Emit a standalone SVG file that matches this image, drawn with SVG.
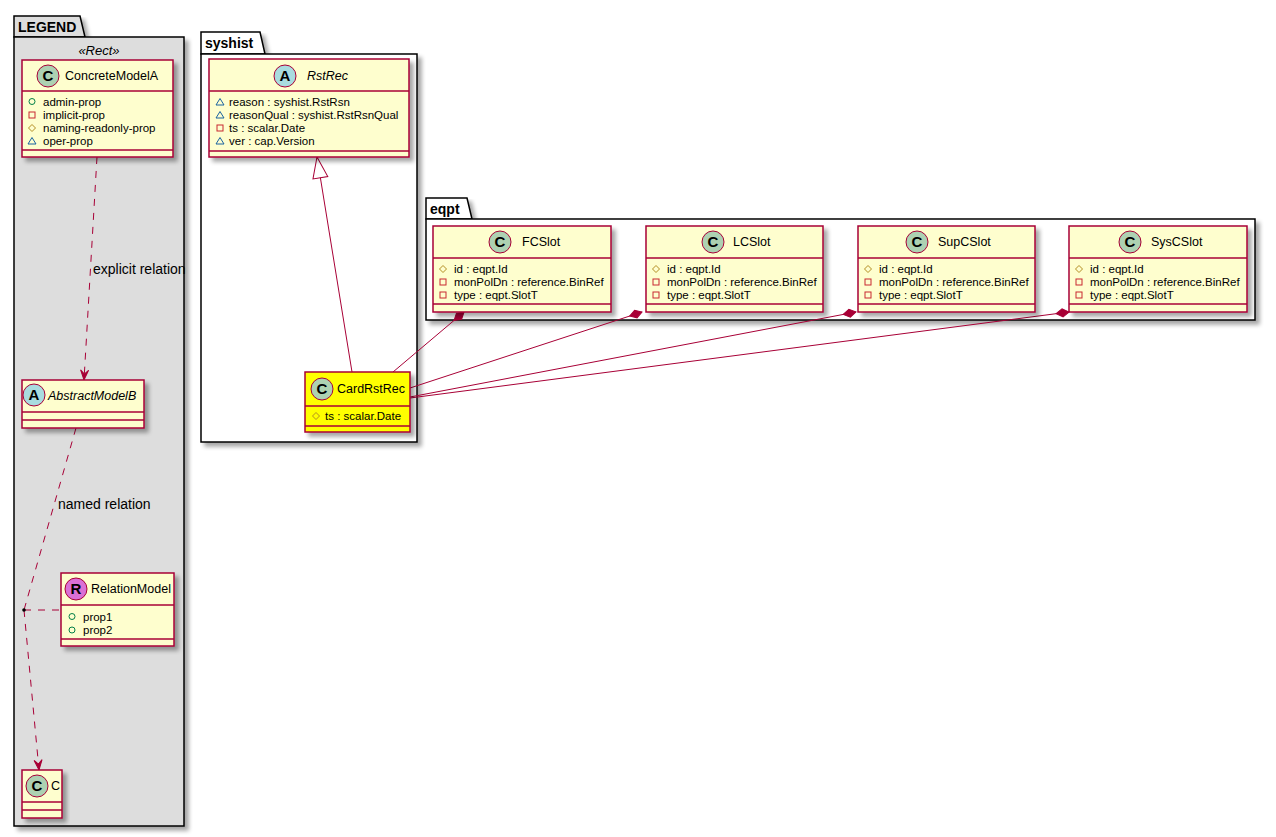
<svg xmlns="http://www.w3.org/2000/svg" width="1276" height="837" viewBox="0 0 1276 837">
<style>
text{font-family:"Liberation Sans",Arial,sans-serif;fill:#000}
.pkgname{font-size:14px;font-weight:bold}
.name{font-size:12.5px}
.it{font-style:italic}
.st{font-size:13px;font-style:italic}
.attr{font-size:11.5px}
.lbl{font-size:14px}
.spot{font-size:15px;font-weight:bold;text-anchor:middle}
.box{fill:#FEFECE;stroke:#A80036;stroke-width:1.5;filter:url(#sh)}
.card{fill:#FFFF00;stroke:#A80036;stroke-width:1.5;filter:url(#sh)}
.sep{stroke:#A80036;stroke-width:1.5}
.pkg{fill:#FFFFFF;stroke:#000;stroke-width:1.5}
.leg{fill:#DDDDDD;stroke:#000;stroke-width:1.5}
.link{fill:none;stroke:#A80036;stroke-width:1}
.dash{stroke-dasharray:7,7}
.circ{stroke:#A80036;stroke-width:1}
</style>
<defs>
<filter id="sh" x="-10%" y="-10%" width="130%" height="140%">
<feGaussianBlur in="SourceAlpha" stdDeviation="2"/>
<feOffset dx="4" dy="4" result="b"/>
<feComponentTransfer><feFuncA type="linear" slope="0.35"/></feComponentTransfer>
<feMerge><feMergeNode/><feMergeNode in="SourceGraphic"/></feMerge>
</filter>
<marker id="dep" markerUnits="userSpaceOnUse" markerWidth="12" markerHeight="10" refX="10" refY="4" orient="auto" overflow="visible">
<path d="M0,0 L10,4 L0,8 L4,4 Z" fill="#A80036" stroke="#A80036" stroke-width="1"/>
</marker>
<marker id="gen" markerUnits="userSpaceOnUse" markerWidth="22" markerHeight="16" refX="21" refY="7.5" orient="auto" overflow="visible">
<path d="M0,0 L21,7.5 L0,15 Z" fill="#FFFFFF" stroke="#A80036" stroke-width="1"/>
</marker>
<marker id="comp" markerUnits="userSpaceOnUse" markerWidth="14" markerHeight="10" refX="13" refY="4" orient="auto" overflow="visible">
<path d="M0,4 L6.5,0 L13,4 L6.5,8 Z" fill="#A80036" stroke="#A80036" stroke-width="1"/>
</marker>
<g id="pub"><circle cx="0" cy="0" r="3" fill="none" stroke="#038048" stroke-width="1"/></g>
<g id="priv"><rect x="-3" y="-3" width="6" height="6" fill="none" stroke="#C82930" stroke-width="1"/></g>
<g id="prot"><path d="M0,-3.5 L3.5,0 L0,3.5 L-3.5,0 Z" fill="none" stroke="#B38D22" stroke-width="1"/></g>
<g id="pkgv"><path d="M0,-3.5 L4,3 L-4,3 Z" fill="none" stroke="#1963A0" stroke-width="1"/></g>
</defs>
<rect width="1276" height="837" fill="#FFFFFF"/>

<g id="pkg-legend">
<path class="leg" d="M14,37 L14,16 L80,16 L85,37 Z" filter="url(#sh)"/>
<rect class="leg" x="14" y="37" width="170" height="789" filter="url(#sh)"/>
<text class="pkgname" x="18" y="32">LEGEND</text>
<text class="st" x="99" y="55" text-anchor="middle">«Rect»</text>
</g>
<g id="pkg-syshist">
<path class="pkg" d="M201,54 L201,32 L260,32 L265,54 Z" filter="url(#sh)"/>
<rect class="pkg" x="201" y="54" width="216" height="388" filter="url(#sh)"/>
<text class="pkgname" x="205" y="48">syshist</text>
</g>
<g id="pkg-eqpt">
<path class="pkg" d="M426,219 L426,198 L467,198 L472,219 Z" filter="url(#sh)"/>
<rect class="pkg" x="426" y="219" width="829" height="101" filter="url(#sh)"/>
<text class="pkgname" x="430" y="214">eqpt</text>
</g>

<g id="connectors">
<path class="link dash" d="M97,157 L84,380" marker-end="url(#dep)"/>
<text class="lbl" x="93" y="274">explicit relation</text>
<path class="link dash" d="M76,428 L24,610"/>
<path class="link dash" d="M24,610 L39,770" marker-end="url(#dep)"/>
<path class="link dash" d="M24,610 L61,610"/>
<circle cx="24" cy="610" r="1.8" fill="#000"/>
<text class="lbl" x="58" y="509">named relation</text>
<path class="link" d="M352,372 L317,157" marker-end="url(#gen)"/>
<path class="link" d="M393,372 L464,312" marker-end="url(#comp)"/>
<path class="link" d="M410,388 L642,312" marker-end="url(#comp)"/>
<path class="link" d="M410,397 L856,312" marker-end="url(#comp)"/>
<path class="link" d="M410,398 L1069,312" marker-end="url(#comp)"/>
</g>

<g id="ConcreteModelA">
<rect class="box" x="22" y="60" width="151" height="97"/>
<line class="sep" x1="22" y1="91" x2="173" y2="91"/>
<line class="sep" x1="22" y1="150" x2="173" y2="150"/>
<circle class="circ" cx="48" cy="76" r="11" fill="#ADD1B2"/>
<text class="spot" x="48" y="81">C</text>
<text class="name" x="65" y="80">ConcreteModelA</text>
<use href="#pub" x="32" y="101.5"/><text class="attr" x="43" y="105.5">admin-prop</text>
<use href="#priv" x="32" y="115"/><text class="attr" x="43" y="119">implicit-prop</text>
<use href="#prot" x="32" y="128"/><text class="attr" x="43" y="132">naming-readonly-prop</text>
<use href="#pkgv" x="32" y="141"/><text class="attr" x="43" y="145">oper-prop</text>
</g>

<g id="AbstractModelB">
<rect class="box" x="22" y="380" width="122" height="48"/>
<line class="sep" x1="22" y1="412" x2="144" y2="412"/>
<line class="sep" x1="22" y1="420" x2="144" y2="420"/>
<circle class="circ" cx="34" cy="395" r="11" fill="#A9DCDF"/>
<text class="spot" x="34" y="400">A</text>
<text class="name it" x="48" y="400">AbstractModelB</text>
</g>

<g id="RelationModel">
<rect class="box" x="61" y="573" width="113" height="73"/>
<line class="sep" x1="61" y1="605" x2="174" y2="605"/>
<line class="sep" x1="61" y1="639" x2="174" y2="639"/>
<circle class="circ" cx="76" cy="589" r="11" fill="#DA70D6"/>
<text class="spot" x="76" y="594">R</text>
<text class="name" x="91" y="593">RelationModel</text>
<use href="#pub" x="72" y="616.5"/><text class="attr" x="83" y="620.5">prop1</text>
<use href="#pub" x="72" y="630"/><text class="attr" x="83" y="634">prop2</text>
</g>

<g id="C">
<rect class="box" x="22" y="770" width="40" height="48"/>
<line class="sep" x1="22" y1="802" x2="62" y2="802"/>
<line class="sep" x1="22" y1="810" x2="62" y2="810"/>
<circle class="circ" cx="37" cy="786" r="11" fill="#ADD1B2"/>
<text class="spot" x="37" y="791">C</text>
<text class="name" x="51" y="790">C</text>
</g>

<g id="RstRec">
<rect class="box" x="209" y="59" width="200" height="98"/>
<line class="sep" x1="209" y1="91" x2="409" y2="91"/>
<line class="sep" x1="209" y1="151" x2="409" y2="151"/>
<circle class="circ" cx="285" cy="76" r="11" fill="#A9DCDF"/>
<text class="spot" x="285" y="81">A</text>
<text class="name it" x="307" y="80">RstRec</text>
<use href="#pkgv" x="220" y="102"/><text class="attr" x="229" y="106">reason : syshist.RstRsn</text>
<use href="#pkgv" x="220" y="115"/><text class="attr" x="229" y="119">reasonQual : syshist.RstRsnQual</text>
<use href="#priv" x="220" y="128"/><text class="attr" x="229" y="132">ts : scalar.Date</text>
<use href="#pkgv" x="220" y="141"/><text class="attr" x="229" y="145">ver : cap.Version</text>
</g>

<g id="CardRstRec">
<rect class="card" x="305" y="372" width="105" height="60"/>
<line class="sep" x1="305" y1="406" x2="410" y2="406"/>
<line class="sep" x1="305" y1="426" x2="410" y2="426"/>
<circle class="circ" cx="322" cy="389" r="11" fill="#ADD1B2"/>
<text class="spot" x="322" y="394">C</text>
<text class="name" x="337" y="393">CardRstRec</text>
<use href="#prot" x="316" y="416"/><text class="attr" x="325" y="420">ts : scalar.Date</text>
</g>

<g id="FCSlot">
<rect class="box" x="433" y="226" width="178" height="86"/>
<line class="sep" x1="433" y1="258" x2="611" y2="258"/>
<line class="sep" x1="433" y1="304" x2="611" y2="304"/>
<circle class="circ" cx="500" cy="242" r="11" fill="#ADD1B2"/>
<text class="spot" x="500" y="247">C</text>
<text class="name" x="522" y="246">FCSlot</text>
<use href="#prot" x="443" y="269"/><text class="attr" x="454" y="273">id : eqpt.Id</text>
<use href="#priv" x="443" y="282"/><text class="attr" x="454" y="286">monPolDn : reference.BinRef</text>
<use href="#priv" x="443" y="295"/><text class="attr" x="454" y="299">type : eqpt.SlotT</text>
</g>

<g id="LCSlot">
<rect class="box" x="646" y="226" width="177" height="86"/>
<line class="sep" x1="646" y1="258" x2="823" y2="258"/>
<line class="sep" x1="646" y1="304" x2="823" y2="304"/>
<circle class="circ" cx="713" cy="242" r="11" fill="#ADD1B2"/>
<text class="spot" x="713" y="247">C</text>
<text class="name" x="733" y="246">LCSlot</text>
<use href="#prot" x="656" y="269"/><text class="attr" x="667" y="273">id : eqpt.Id</text>
<use href="#priv" x="656" y="282"/><text class="attr" x="667" y="286">monPolDn : reference.BinRef</text>
<use href="#priv" x="656" y="295"/><text class="attr" x="667" y="299">type : eqpt.SlotT</text>
</g>

<g id="SupCSlot">
<rect class="box" x="858" y="226" width="177" height="86"/>
<line class="sep" x1="858" y1="258" x2="1035" y2="258"/>
<line class="sep" x1="858" y1="304" x2="1035" y2="304"/>
<circle class="circ" cx="917" cy="242" r="11" fill="#ADD1B2"/>
<text class="spot" x="917" y="247">C</text>
<text class="name" x="938" y="246">SupCSlot</text>
<use href="#prot" x="868" y="269"/><text class="attr" x="879" y="273">id : eqpt.Id</text>
<use href="#priv" x="868" y="282"/><text class="attr" x="879" y="286">monPolDn : reference.BinRef</text>
<use href="#priv" x="868" y="295"/><text class="attr" x="879" y="299">type : eqpt.SlotT</text>
</g>

<g id="SysCSlot">
<rect class="box" x="1069" y="226" width="178" height="86"/>
<line class="sep" x1="1069" y1="258" x2="1247" y2="258"/>
<line class="sep" x1="1069" y1="304" x2="1247" y2="304"/>
<circle class="circ" cx="1130" cy="242" r="11" fill="#ADD1B2"/>
<text class="spot" x="1130" y="247">C</text>
<text class="name" x="1151" y="246">SysCSlot</text>
<use href="#prot" x="1079" y="269"/><text class="attr" x="1090" y="273">id : eqpt.Id</text>
<use href="#priv" x="1079" y="282"/><text class="attr" x="1090" y="286">monPolDn : reference.BinRef</text>
<use href="#priv" x="1079" y="295"/><text class="attr" x="1090" y="299">type : eqpt.SlotT</text>
</g>
</svg>
